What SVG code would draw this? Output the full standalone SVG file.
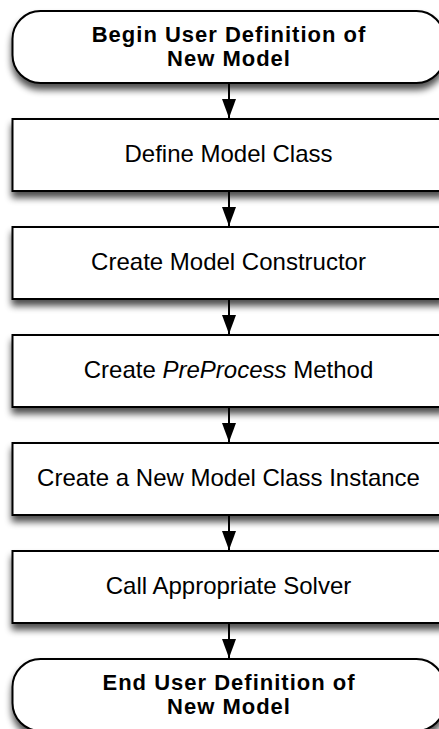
<svg xmlns="http://www.w3.org/2000/svg" width="439" height="729" viewBox="0 0 439 729">
  <style>
    .shape { fill: #ffffff; stroke: #000000; stroke-width: 2; filter: url(#shadow); }
    .label { font-family: "Liberation Sans", Arial, Helvetica, sans-serif; font-size: 24px; fill: #000000; text-anchor: middle; }
    .term { font-weight: bold; font-size: 22px; letter-spacing: 1px; }
    .wire { stroke: #000000; stroke-width: 2; fill: none; marker-end: url(#arrow); }
  </style>
  <defs>
    <filter id="shadow" x="-10%" y="-20%" width="120%" height="160%">
      <feGaussianBlur in="SourceAlpha" stdDeviation="3.5"/>
      <feOffset dx="0" dy="6" result="blur"/>
      <feComponentTransfer><feFuncA type="linear" slope="0.7"/></feComponentTransfer>
      <feMerge><feMergeNode/><feMergeNode in="SourceGraphic"/></feMerge>
    </filter>
    <marker id="arrow" viewBox="0 0 19 14" refX="19" refY="7" markerWidth="19" markerHeight="14" markerUnits="userSpaceOnUse" orient="auto">
      <path d="M0,0 L19,7 L0,14 Z" fill="#000000"/>
    </marker>
  </defs>

  <!-- connectors -->
  <g id="connectors">
    <line class="wire" x1="229" y1="84" x2="229" y2="118"/>
    <line class="wire" x1="229" y1="192" x2="229" y2="226"/>
    <line class="wire" x1="229" y1="300" x2="229" y2="334"/>
    <line class="wire" x1="229" y1="408" x2="229" y2="442"/>
    <line class="wire" x1="229" y1="516" x2="229" y2="550"/>
    <line class="wire" x1="229" y1="624" x2="229" y2="658"/>
  </g>

  <g id="begin">
    <rect class="shape" x="12.5" y="11" width="432" height="72" rx="28" ry="28"/>
    <text class="label term" x="229" y="42">Begin User Definition of</text>
    <text class="label term" x="229" y="66">New Model</text>
  </g>

  <g id="define-class">
    <rect class="shape" x="12.5" y="119" width="432" height="72"/>
    <text class="label" x="228.5" y="162">Define Model Class</text>
  </g>

  <g id="constructor">
    <rect class="shape" x="12.5" y="227" width="432" height="72"/>
    <text class="label" x="228.5" y="270">Create Model Constructor</text>
  </g>

  <g id="preprocess">
    <rect class="shape" x="12.5" y="335" width="432" height="72"/>
    <text class="label" x="228.5" y="378">Create <tspan font-style="italic">PreProcess</tspan> Method</text>
  </g>

  <g id="instance">
    <rect class="shape" x="12.5" y="443" width="432" height="72"/>
    <text class="label" x="228.5" y="486">Create a New Model Class Instance</text>
  </g>

  <g id="solver">
    <rect class="shape" x="12.5" y="551" width="432" height="72"/>
    <text class="label" x="228.5" y="594">Call Appropriate Solver</text>
  </g>

  <g id="end">
    <rect class="shape" x="12.5" y="659" width="432" height="72" rx="28" ry="28"/>
    <text class="label term" x="229" y="690">End User Definition of</text>
    <text class="label term" x="229" y="714">New Model</text>
  </g>
</svg>
